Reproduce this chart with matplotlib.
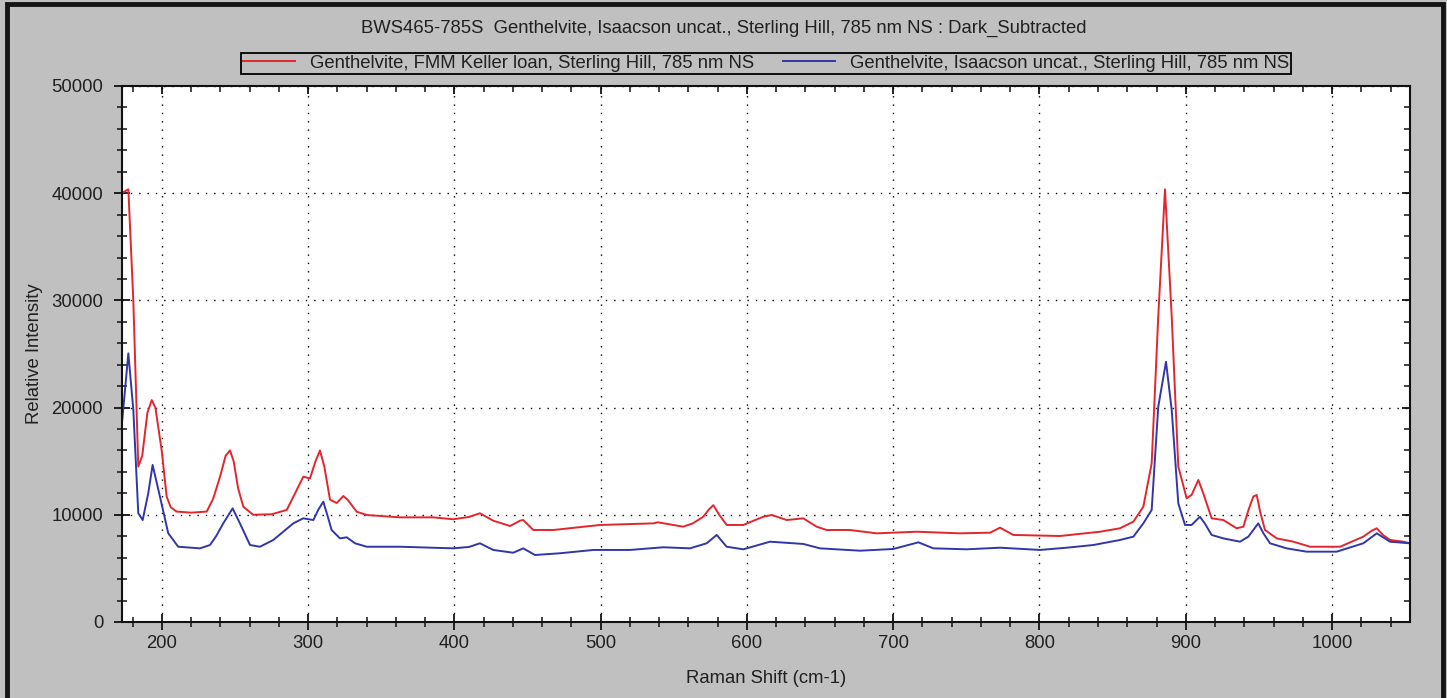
"""Raman spectra of two genthelvite samples, 785 nm excitation."""

from matplotlib import pyplot, patches
from matplotlib.ticker import MultipleLocator


# Raman shift (cm-1) and dark-subtracted intensity, FMM Keller loan sample.
keller_shift = [172.4, 177.0, 180.4, 183.8, 186.5, 190.0, 193.0, 195.5,
                199.8, 203.2, 206.0, 210.0, 220.0, 230.6, 235.0, 239.7,
                243.5, 246.5, 249.0, 252.0, 255.6, 262.4, 275.0, 285.3,
                291.0, 296.6, 301.2, 305.0, 308.0, 311.0, 314.9, 319.5,
                324.0, 327.0, 333.1, 340.0, 362.7, 385.5, 399.2, 410.0,
                417.4, 426.5, 438.0, 444.8, 447.0, 453.9, 467.6, 499.5,
                536.0, 539.0, 556.4, 563.0, 570.1, 574.0, 577.0, 581.0,
                586.1, 597.5, 611.2, 616.9, 627.2, 638.5, 647.6, 654.5,
                670.4, 688.7, 716.0, 745.6, 766.2, 773.0, 782.1, 814.0,
                841.4, 855.0, 864.2, 871.0, 876.7, 881.2, 885.8, 890.4,
                894.9, 900.6, 904.0, 908.6, 912.0, 917.7, 925.7, 934.8,
                939.4, 943.0, 946.2, 948.5, 951.0, 954.2, 962.2, 973.6,
                985.0, 1005.5, 1021.4, 1027.0, 1030.6, 1035.0, 1039.7,
                1048.8, 1053.3]
keller_intensity = [40000, 40360, 30000, 14500, 15500, 19500, 20700, 20000,
                    16000, 11700, 10700, 10300, 10200, 10300, 11500, 13550,
                    15500, 16000, 15000, 12500, 10750, 10000, 10050, 10450,
                    12000, 13550, 13400, 15000, 16000, 14500, 11400, 11100,
                    11750, 11400, 10290, 9980, 9760, 9760, 9580, 9800,
                    10140, 9450, 8950, 9450, 9510, 8580, 8580, 9050,
                    9200, 9300, 8890, 9200, 9820, 10500, 10900, 10000,
                    9050, 9050, 9820, 9980, 9510, 9670, 8890, 8580,
                    8580, 8270, 8420, 8270, 8330, 8800, 8120, 8020,
                    8420, 8740, 9360, 10750, 14800, 28500, 40360, 28500,
                    14500, 11540, 11850, 13250, 12000, 9670, 9510, 8740,
                    8890, 10500, 11700, 11850, 10200, 8580, 7800, 7490,
                    7020, 7020, 7960, 8500, 8740, 8100, 7650,
                    7490, 7340]

# Same for the Isaacson uncatalogued sample.
isaacson_shift = [172.4, 177.0, 180.4, 183.8, 186.8, 190.6, 193.6, 198.6,
                  204.3, 211.1, 226.0, 232.8, 237.0, 241.9, 248.3, 253.3,
                  260.2, 267.0, 276.1, 289.8, 296.6, 303.5, 307.0, 310.3,
                  313.0, 316.0, 321.7, 326.3, 332.0, 340.0, 362.7, 399.2,
                  410.0, 417.4, 426.5, 440.2, 447.0, 455.0, 472.1, 494.9,
                  520.0, 542.8, 561.0, 572.4, 579.3, 586.1, 597.5, 615.7,
                  638.5, 649.9, 677.3, 700.0, 717.2, 727.4, 750.2, 773.0,
                  800.3, 818.6, 836.8, 855.0, 864.2, 871.0, 876.7, 881.2,
                  886.5, 890.4, 894.9, 899.5, 904.0, 909.7, 913.0, 917.7,
                  925.7, 937.1, 942.8, 949.6, 953.0, 957.6, 969.0, 982.6,
                  1003.2, 1021.4, 1030.6, 1039.7, 1053.3]
isaacson_intensity = [18200, 25060, 19800, 10140, 9510, 12000, 14650, 11700,
                      8270, 7020, 6870, 7180, 8000, 9200, 10600, 9200,
                      7180, 7020, 7650, 9200, 9670, 9510, 10500, 11220,
                      10000, 8580, 7800, 7900, 7340, 7020, 7020, 6870,
                      7000, 7340, 6720, 6460, 6870, 6250, 6410, 6720,
                      6720, 6970, 6870, 7340, 8120, 7020, 6780, 7490,
                      7280, 6870, 6650, 6810, 7430, 6870, 6780, 6930,
                      6720, 6930, 7180, 7650, 7960, 9200, 10450, 20080,
                      24280, 19780, 11070, 9050, 9050, 9820, 9200, 8120,
                      7800, 7490, 7960, 9200, 8300, 7340, 6870, 6560,
                      6560, 7340, 8270, 7490, 7340]

title = ('BWS465-785S  Genthelvite, Isaacson uncat., Sterling Hill, '
         '785 nm NS : Dark_Subtracted')
labels = ['Genthelvite, FMM Keller loan, Sterling Hill, 785 nm NS',
          'Genthelvite, Isaacson uncat., Sterling Hill, 785 nm NS']

panel_gray = '#c0c0c0'
text_color = '#202020'

pyplot.rc('font', family='Liberation Sans', size=13.3)
fig = pyplot.figure(figsize=(14.47, 6.98), dpi=100, facecolor=panel_gray)
ax = fig.add_axes([0.0843, 0.1089, 0.8901, 0.7679])
ax.set_facecolor('white')

ax.plot(keller_shift, keller_intensity, color='#e3262d', linewidth=1.4,
        label=labels[0])
ax.plot(isaacson_shift, isaacson_intensity, color='#3236a8', linewidth=1.4,
        label=labels[1])

ax.set_xlim(172.65, 1053.3)
ax.set_ylim(0, 50000)
ax.xaxis.set_major_locator(MultipleLocator(100))
ax.xaxis.set_minor_locator(MultipleLocator(20))
ax.yaxis.set_major_locator(MultipleLocator(10000))
ax.yaxis.set_minor_locator(MultipleLocator(2000))
ax.grid(True, which='major', color='black', linestyle=(0, (1, 5)),
        linewidth=1.0)

for spine in ax.spines.values():
    spine.set_linewidth(1.5)
    spine.set_color('#111111')
ax.tick_params(which='both', direction='inout', colors='#111111',
               labelcolor=text_color)
ax.tick_params(which='major', length=11, width=1.3, labelsize=13.3)
ax.tick_params(which='minor', length=7, width=1.1)
ax.tick_params(axis='x', which='major', pad=4)
ax.tick_params(axis='y', which='major', pad=8)

# Inward ticks along the top and right edges.
top = ax.secondary_xaxis('top')
top.xaxis.set_major_locator(MultipleLocator(100))
top.xaxis.set_minor_locator(MultipleLocator(20))
top.tick_params(which='both', direction='in', labeltop=False,
                colors='#111111')
top.tick_params(which='major', length=6, width=1.3)
top.tick_params(which='minor', length=4, width=1.1)
right = ax.secondary_yaxis('right')
right.yaxis.set_major_locator(MultipleLocator(10000))
right.yaxis.set_minor_locator(MultipleLocator(2000))
right.tick_params(which='both', direction='in', labelright=False,
                  colors='#111111')
right.tick_params(which='major', length=6, width=1.3)
right.tick_params(which='minor', length=4, width=1.1)
for sec in (top, right):
    for spine in sec.spines.values():
        spine.set_visible(False)

ax.set_xlabel('Raman Shift (cm-1)', color=text_color, labelpad=13)
ax.set_ylabel('Relative Intensity', color=text_color, labelpad=6)

leg = ax.legend(loc='lower center', bbox_to_anchor=(0.5, 1.0224), ncol=2,
                borderaxespad=0, fancybox=False, facecolor=panel_gray,
                edgecolor='black', framealpha=1, borderpad=0.12,
                handlelength=2.8, handletextpad=0.8, columnspacing=1.6)
leg.get_frame().set_linewidth(1.3)
for text in leg.get_texts():
    text.set_color(text_color)

fig.text(0.5, 0.96, title, ha='center', va='center', color=text_color)

# Dark window border around the panel.
fig.patches.append(patches.Rectangle((0.0045, -0.05), 0.9925, 1.0445,
                                     transform=fig.transFigure,
                                     fill=False, edgecolor='#151515',
                                     linewidth=3.5))

fig.savefig('out.png', dpi=100, facecolor=panel_gray)
